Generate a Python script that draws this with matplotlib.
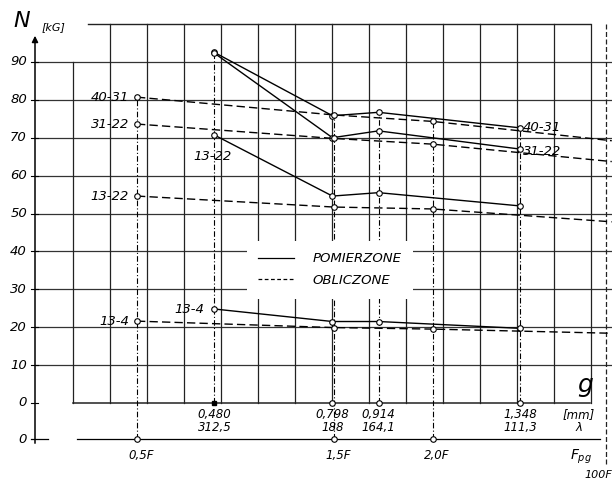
import matplotlib.pyplot as plt
import numpy as np
from matplotlib.lines import Line2D

plt.rcParams['font.family'] = ['DejaVu Sans', 'Noto Sans']

# positions on the F scale (1.0 = F); measured points sit at g = 0.480 .. 1.348 mm
x_meas = [0.893, 1.492, 1.726, 2.444]
x_calc = [0.5, 1.5, 2.0, 2.91]

names = ["40-31", "31-22", "13-22", "13-4"]

meas_40_31 = [92.5, 75.8, 76.7, 72.6]
meas_31_22 = [92.3, 70.0, 71.8, 67.0]
meas_13_22 = [70.7, 54.6, 55.5, 52.0]
meas_13_4 = [24.8, 21.5, 21.5, 19.7]

calc_40_31 = [80.7, 76.0, 74.3, 69.2]
calc_31_22 = [73.6, 69.8, 68.3, 63.7]
calc_13_22 = [54.6, 51.7, 51.2, 47.8]
calc_13_4 = [21.6, 19.9, 19.5, 18.4]

g_labels = ["0,480\n312,5", "0,798\n188", "0,914\n164,1", "1,348\n111,3"]
f_ticks = [0.5, 1.5, 2.0]
f_labels = ["0,5F", "1,5F", "2,0F"]
y_ticks = [0, 10, 20, 30, 40, 50, 60, 70, 80, 90]
y_labels = ["0", "10", "20", "30", "40", "50", "60", "70", "80", "90"]
f_axis_level = -9.5

meas = [meas_40_31, meas_31_22, meas_13_22, meas_13_4]
calc = [calc_40_31, calc_31_22, calc_13_22, calc_13_4]


# pixel helpers, only for placing decorations
def fx(p):
    return (p - 38.5) / 197.0


def fy(p):
    return (403 - p) / 3.79


def dx(p):
    return p / 197.0


def dy(p):
    return p / 3.79


fig = plt.figure(figsize=(6.12, 4.8), dpi=100)
ax = fig.add_axes([0, 0, 1, 1])
ax.set_xlim(fx(0), fx(612))
ax.set_ylim(fy(480), fy(0))
ax.axis('off')

grid_c = '#333333'
# horizontal grid
for v in y_ticks[1:]:
    ax.plot([fx(35), fx(612)], [v, v], color=grid_c, lw=0.9, zorder=1)
ax.plot([fx(73), fx(590)], [0, 0], color='#222222', lw=1.1, zorder=1)
ax.plot([fx(88), fx(590)], [100, 100], color='#222222', lw=1.0, zorder=1)

# vertical grid
for k in range(15):
    xv = fx(73 + 37 * k)
    top = 90 if k == 0 else 100
    ax.plot([xv, xv], [0, top], color='#222222', lw=0.9, zorder=1)
ax.plot([fx(606), fx(606)], [fy(24), fy(466)], color='#222222', lw=0.9,
        linestyle=(0, (4, 2)), zorder=1)

# y axis with arrow
ax.annotate('', xy=(fx(35), fy(33)), xytext=(fx(35), fy(446)),
            arrowprops=dict(arrowstyle='-|>', color='black', lw=1.1,
                            mutation_scale=9), zorder=3)
for v, lab in zip(y_ticks, y_labels):
    ax.plot([fx(31), fx(38)], [v, v], color='black', lw=0.8)
    ax.text(fx(27), v, lab, ha='right', va='center', fontsize=9.5,
            style='italic')
ax.text(fx(27), f_axis_level, "0", ha='right', va='center', fontsize=9.5,
        style='italic')
ax.plot([fx(31), fx(48)], [f_axis_level, f_axis_level], color='black', lw=0.9)
ax.text(fx(13), fy(21), "N", ha='left', va='center', fontsize=16,
        style='italic')
ax.text(fx(42), fy(27), "[kG]", ha='left', va='center', fontsize=8,
        style='italic')

# dash-dot verticals at the data positions
for i, xv in enumerate(x_calc[:3]):
    top = max(c[i] for c in calc)
    ax.plot([xv, xv], [f_axis_level, top], color='black', lw=0.8,
            linestyle=(0, (5, 2, 1, 2)), zorder=2)
for i, xv in enumerate(x_meas):
    top = max(m[i] for m in meas)
    if i in (1,):
        continue
    ax.plot([xv, xv], [0, top], color='black', lw=0.8,
            linestyle=(0, (5, 2, 1, 2)), zorder=2)

# g axis labels and markers
for xv, lab in zip(x_meas, g_labels):
    ax.text(xv, fy(421), lab, ha='center', va='center', fontsize=8.5,
            style='italic', linespacing=0.95)
ax.plot(x_meas[1:], [0] * 3, 'o', ms=4, mfc='white', mec='black', mew=0.8,
        zorder=4)
ax.plot(x_meas[:1], [0], 's', ms=3, color='black', zorder=4)
ax.text(fx(585), fy(385), "g", ha='center', va='center', fontsize=18,
        style='italic')
ax.text(fx(579), fy(421), "[mm]\n\u03bb", ha='center', va='center',
        fontsize=8.5, style='italic', linespacing=0.95)

# F axis
ax.plot([fx(77), fx(600)], [f_axis_level, f_axis_level], color='black', lw=0.9)
ax.plot(f_ticks, [f_axis_level] * 3, 'o', ms=4, mfc='white', mec='black',
        mew=0.8, zorder=4)
for xv, lab in zip(f_ticks, f_labels):
    ax.text(xv + dx(4), fy(455), lab, ha='center', va='center', fontsize=8.5,
            style='italic')
ax.text(fx(581), fy(457), r"$\mathit{F_{pg}}$", ha='center', va='center',
        fontsize=10)
ax.text(fx(612), fy(475), "100F", ha='right', va='center', fontsize=8,
        style='italic')

# series
for m, c in zip(meas, calc):
    ax.plot(x_meas, m, color='black', lw=1.0, marker='o', ms=4, mfc='white',
            mec='black', mew=0.8, zorder=5)
    ax.plot(x_calc, c, color='black', lw=1.0, linestyle=(0, (6, 3)),
            marker='o', ms=4, mfc='white', mec='black', mew=0.8,
            markevery=[0, 1, 2], zorder=5)

# series labels
for name, c in zip(names, calc):
    ax.text(x_calc[0] - dx(8), c[0], name, ha='right', va='center',
            fontsize=9.5, style='italic', zorder=6)
ax.text(x_meas[0] - dx(2), meas_13_22[0] - dy(21), names[2], ha='center',
        va='center', fontsize=9.5, style='italic')
ax.text(x_meas[0] - dx(10), meas_13_4[0], names[3], ha='right', va='center',
        fontsize=9.5, style='italic')
ax.text(x_meas[3] + dx(3), meas_40_31[3], names[0], ha='left', va='center',
        fontsize=9.5, style='italic')
ax.text(x_meas[3] + dx(3), meas_31_22[3] - dy(2), names[1], ha='left',
        va='center', fontsize=9.5, style='italic')

# legend
handles = [Line2D([], [], color='black', lw=0.9),
           Line2D([], [], color='black', lw=0.9, linestyle=(0, (3, 2)))]
leg = ax.legend(handles, ["POMIERZONE", "OBLICZONE"],
                loc='upper left', frameon=True, fontsize=9.5,
                handlelength=2.7, handletextpad=1.4,
                borderpad=0.9, labelspacing=0.65)
leg.set_bbox_to_anchor((240 / 612, 1 - 234 / 480), transform=ax.transAxes)
leg.get_frame().set_facecolor('white')
leg.get_frame().set_edgecolor('none')
leg.get_frame().set_alpha(1)
leg.set_zorder(4)
for t in leg.get_texts():
    t.set_style('italic')

fig.savefig("out.png", dpi=100, facecolor='white')
